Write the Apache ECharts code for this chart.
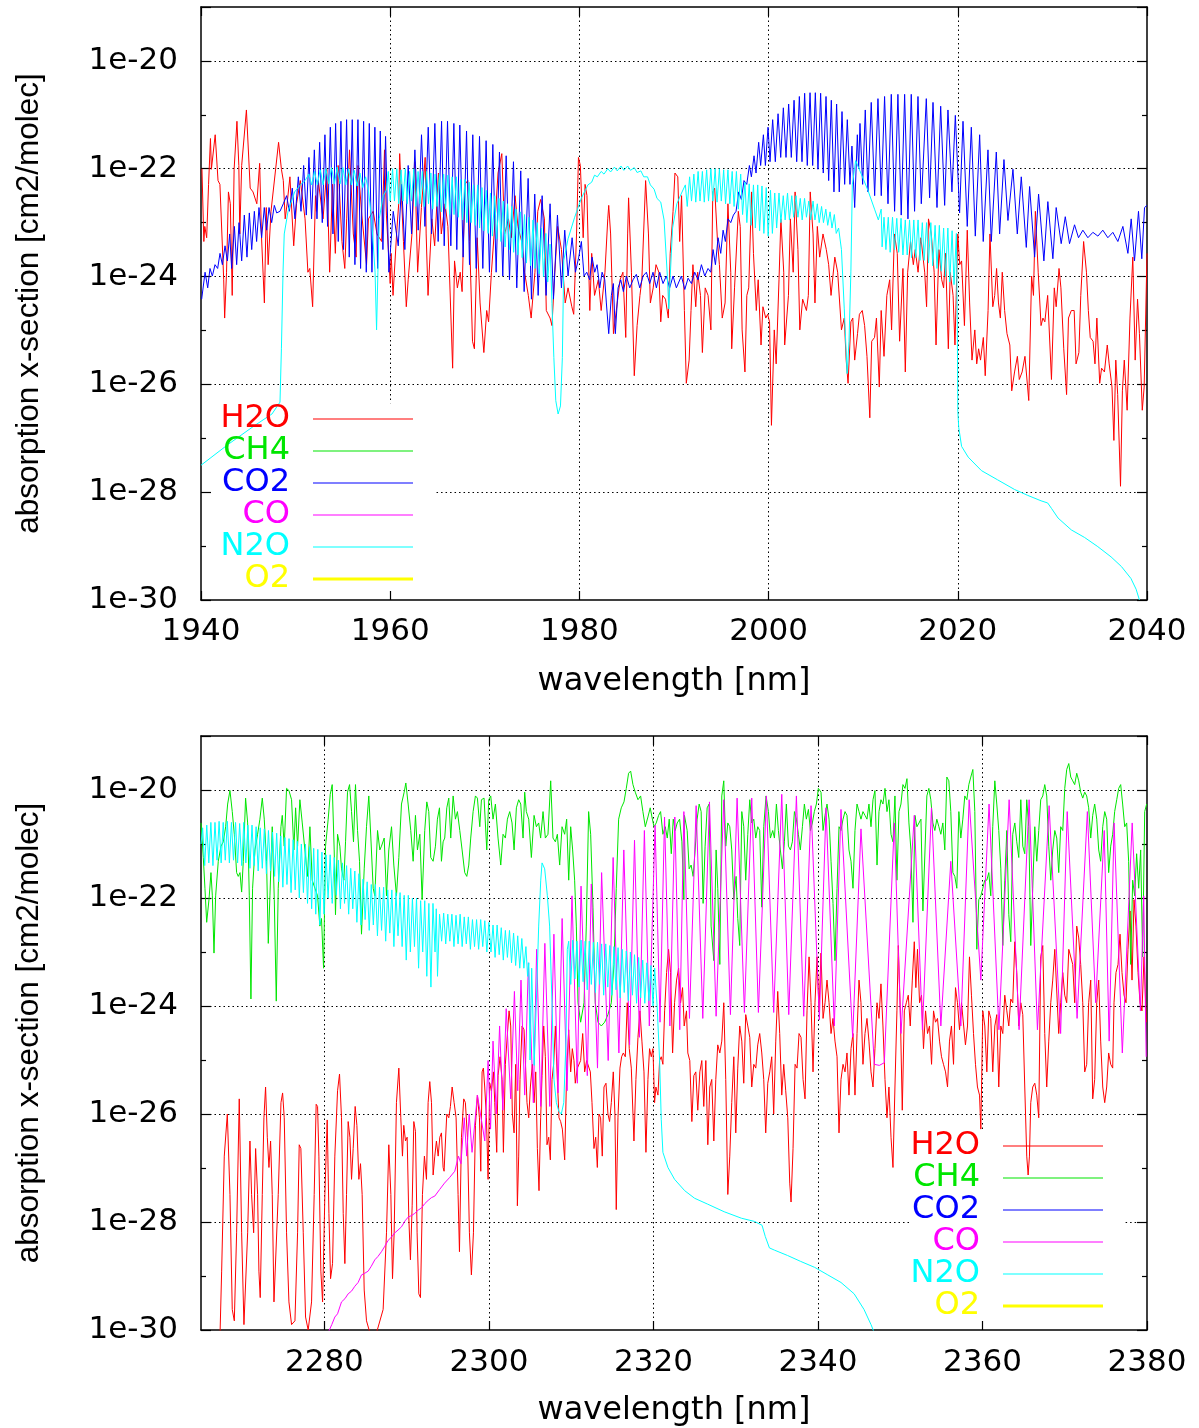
<!DOCTYPE html>
<html><head><meta charset="utf-8">
<script src="https://cdn.jsdelivr.net/npm/echarts@6/dist/echarts.min.js"></script>
<style>html,body{margin:0;padding:0;background:#fff}#c{width:1199px;height:1428px}</style>
</head><body><div id="c"></div>
<script>
// Each point: [wavelength in nm, log10(absorption cross-section / (cm2/molec))]
const topXTicks = [1940, 1960, 1980, 2000, 2020, 2040];
const bottomXTicks = [2280, 2300, 2320, 2340, 2360, 2380];
const yMajorTicks = [-30, -28, -26, -24, -22, -20];
const speciesNames = ['H2O', 'CH4', 'CO2', 'CO', 'N2O', 'O2'];
const speciesColors = ['#ff0000', '#00e600', '#0000ff', '#ff00ff', '#00ffff', '#ffff00'];
const speciesLineWidths = [1, 1, 1, 1, 1, 3];

// ---------- upper panel (1940-2040 nm) ----------
const h2oTop = [[1940.1,-22.0],[1940.3,-23.35],[1940.4,-23.07],[1940.6,-23.28],[1940.8,-22.29],[1941.0,-21.44],[1941.1,-22.01],[1941.5,-21.37],[1941.8,-22.22],[1942.0,-22.29],[1942.4,-24.06],[1942.5,-24.77],[1942.7,-23.92],[1942.9,-22.43],[1943.1,-22.65],[1943.3,-24.35],[1943.5,-22.01],[1943.8,-21.12],[1944.0,-21.94],[1944.1,-23.21],[1944.3,-21.94],[1944.5,-21.94],[1944.8,-20.91],[1945.2,-22.36],[1945.5,-22.43],[1945.9,-22.65],[1946.2,-21.90],[1946.4,-23.28],[1946.7,-24.49],[1946.9,-22.72],[1947.1,-23.78],[1947.4,-22.79],[1948.2,-21.51],[1948.5,-22.01],[1948.7,-22.22],[1948.9,-22.93],[1949.1,-22.65],[1949.4,-22.15],[1949.8,-23.43],[1950.1,-22.65],[1950.5,-22.22],[1951.0,-22.93],[1951.3,-23.92],[1951.5,-23.85],[1951.8,-24.56],[1952.1,-22.50],[1952.2,-22.79],[1952.4,-22.22],[1952.9,-22.93],[1953.3,-22.01],[1953.6,-23.92],[1953.9,-22.29],[1954.2,-23.57],[1954.5,-21.94],[1954.9,-23.35],[1955.2,-23.85],[1955.4,-22.93],[1955.7,-21.65],[1956.1,-23.21],[1956.4,-23.64],[1956.6,-21.94],[1957.0,-22.86],[1957.5,-23.78],[1957.7,-22.93],[1958.2,-22.79],[1958.6,-23.21],[1959.1,-23.35],[1959.4,-21.65],[1959.6,-22.86],[1960.0,-24.13],[1960.1,-23.57],[1960.3,-24.35],[1960.7,-23.14],[1960.9,-22.65],[1961.0,-21.72],[1961.4,-23.35],[1961.7,-24.56],[1961.9,-24.06],[1962.3,-23.21],[1962.6,-21.87],[1962.9,-23.92],[1963.3,-22.72],[1963.7,-21.79],[1963.8,-23.21],[1964.0,-24.35],[1964.4,-22.93],[1964.7,-23.43],[1965.1,-22.08],[1965.4,-23.21],[1965.8,-22.65],
[1966.1,-23.07],[1966.6,-25.70],[1966.8,-23.71],[1967.1,-24.21],[1967.4,-23.92],[1967.6,-24.28],[1967.9,-22.29],[1968.2,-22.22],[1968.4,-23.35],[1968.7,-25.20],[1968.9,-25.34],[1969.2,-23.28],[1969.5,-24.49],[1969.9,-25.41],[1970.2,-24.63],[1970.4,-24.84],[1970.7,-23.92],[1971.1,-22.93],[1971.4,-22.08],[1971.8,-21.72],[1972.1,-23.21],[1972.5,-22.93],[1972.8,-23.28],[1973.2,-22.50],[1973.5,-23.07],[1973.9,-23.35],[1974.2,-23.92],[1974.6,-24.35],[1974.9,-24.77],[1975.3,-23.92],[1975.6,-22.79],[1975.9,-22.57],[1976.3,-22.93],[1976.5,-24.63],[1976.9,-24.77],[1977.1,-24.91],[1977.4,-23.92],[1977.7,-23.07],[1978.1,-23.50],[1978.5,-24.49],[1978.8,-24.21],[1979.2,-24.56],[1979.4,-24.70],[1979.7,-23.21],[1979.9,-21.79],[1980.1,-21.94],[1980.4,-23.28],[1980.6,-22.29],[1980.8,-22.50],[1981.1,-24.63],[1981.3,-23.57],[1981.6,-24.35],[1982.0,-24.06],[1982.3,-24.63],[1982.7,-23.92],[1983.0,-22.93],[1983.1,-22.68],[1983.3,-23.21],[1983.6,-25.06],[1983.9,-24.63],[1984.3,-24.06],[1984.6,-23.92],[1984.9,-25.13],[1985.1,-23.21],[1985.2,-22.54],[1985.5,-23.92],[1985.8,-25.84],[1986.1,-24.91],[1986.4,-24.35],[1986.6,-24.06],[1987.0,-22.22],[1987.3,-23.21],[1987.5,-24.49],[1987.8,-24.21],[1988.1,-23.78],[1988.4,-23.92],[1988.6,-24.84],[1988.8,-24.35],[1989.1,-24.42],[1989.4,-24.77],[1989.6,-23.57],[1989.9,-22.79],[1990.1,-22.08],
[1990.4,-22.15],[1990.6,-23.35],[1990.8,-22.50],[1991.1,-24.63],[1991.3,-25.98],[1991.6,-25.55],[1991.8,-24.63],[1992.0,-23.78],[1992.3,-24.56],[1992.5,-23.92],[1992.8,-24.35],[1993.0,-25.41],[1993.3,-24.21],[1993.6,-24.35],[1993.9,-24.99],[1994.1,-22.43],[1994.3,-22.36],[1994.6,-23.35],[1994.8,-23.78],[1995.1,-24.77],[1995.4,-24.49],[1995.7,-22.65],[1996.0,-23.92],[1996.1,-25.34],[1996.4,-24.21],[1996.8,-22.79],[1997.0,-23.07],[1997.2,-24.99],[1997.5,-25.77],[1997.7,-24.35],[1997.9,-24.21],[1998.2,-22.43],[1998.4,-23.57],[1998.7,-24.63],[1998.9,-24.06],[1999.2,-25.27],[1999.4,-24.56],[1999.7,-24.77],[1999.9,-24.70],[2000.1,-24.84],[2000.3,-26.76],[2000.6,-24.99],[2000.8,-25.62],[2001.1,-24.06],[2001.3,-22.93],[2001.6,-23.92],[2001.7,-25.27],[2002.1,-24.35],[2002.3,-22.93],[2002.6,-23.92],[2002.8,-22.43],[2003.1,-23.50],[2003.3,-24.99],[2003.6,-24.42],[2004.0,-24.63],[2004.2,-24.35],[2004.4,-22.43],[2004.7,-23.21],[2004.9,-24.49],[2005.15,-23.07],[2005.4,-23.64],[2005.75,-23.21],[2006.1,-23.50],[2006.35,-23.78],[2006.6,-24.35],[2007.0,-23.64],[2007.3,-23.92],[2007.7,-24.99],[2008.0,-24.77],[2008.2,-25.55],[2008.4,-25.98],[2008.7,-24.84],[2008.9,-24.77],[2009.1,-25.55],[2009.4,-25.06],[2009.6,-24.70],[2009.9,-24.63],[2010.15,-24.91],[2010.4,-25.48],[2010.7,-26.62],[2010.9,-25.20],[2011.2,-25.13],[2011.4,-24.77],[2011.7,-26.05],[2011.9,-24.63],[2012.2,-25.48],[2012.5,-24.35],[2012.8,-24.06],[2013.0,-24.99],[2013.3,-23.21],[2013.6,-23.57],[2013.85,-25.20],[2014.2,-23.85],[2014.45,-25.77],[2014.7,-23.92],[2015.0,-23.35],[2015.3,-23.78],[2015.5,-23.50],[2015.8,-23.92],[2016.1,-23.28],
[2016.5,-23.92],[2016.7,-24.56],[2016.9,-22.93],[2017.2,-23.21],[2017.5,-23.92],[2017.7,-25.27],[2018.0,-23.50],[2018.3,-24.06],[2018.5,-24.21],[2018.7,-23.57],[2019.0,-25.34],[2019.2,-23.92],[2019.5,-24.35],[2019.7,-25.27],[2020.0,-23.21],[2020.2,-23.78],[2020.4,-23.71],[2020.7,-24.91],[2021.0,-23.14],[2021.25,-24.49],[2021.5,-25.55],[2021.8,-24.99],[2022.0,-25.62],[2022.2,-25.34],[2022.4,-25.55],[2022.7,-25.13],[2022.9,-25.84],[2023.2,-24.63],[2023.4,-23.21],[2023.7,-24.56],[2023.9,-24.35],[2024.1,-23.85],[2024.3,-24.49],[2024.5,-24.77],[2024.7,-23.92],[2024.95,-24.63],[2025.2,-25.06],[2025.5,-25.27],[2025.7,-26.12],[2026.0,-25.77],[2026.3,-25.48],[2026.5,-25.91],[2026.8,-25.77],[2027.1,-25.48],[2027.5,-26.30],[2027.8,-23.99],[2028.0,-24.35],[2028.2,-22.79],[2028.5,-23.92],[2028.8,-24.91],[2029.0,-24.77],[2029.2,-24.84],[2029.5,-24.35],[2029.9,-25.91],[2030.2,-24.21],[2030.4,-24.56],[2030.7,-23.85],[2030.9,-24.21],[2031.2,-25.34],[2031.5,-26.19],[2031.7,-24.77],[2032.0,-24.63],[2032.3,-24.63],[2032.5,-25.62],[2032.8,-25.41],[2033.0,-24.35],[2033.3,-23.35],[2033.6,-23.92],[2033.8,-24.63],[2034.0,-25.13],[2034.3,-25.20],[2034.5,-25.62],[2034.7,-24.77],[2035.0,-25.98],[2035.2,-25.70],[2035.5,-25.77],[2035.8,-25.27],[2036.0,-25.62],[2036.3,-26.05],[2036.5,-27.04],[2036.7,-25.55],[2036.9,-26.19],[2037.2,-27.89],[2037.4,-26.12],[2037.6,-25.55],[2037.9,-26.48],[2038.2,-24.77],[2038.5,-23.64],[2038.75,-25.55],[2039.0,-24.42],[2039.2,-25.06],[2039.5,-26.48],[2039.7,-26.05],[2040.0,-23.57]];

const co2Top = [[1940.07,-24.42],[1940.43,-23.92],[1940.71,-24.21],[1940.95,-23.85],[1941.2,-23.99],[1941.48,-23.78],[1941.76,-23.85],[1942.01,-23.57],[1942.26,-23.78],[1942.54,-23.43],[1942.79,-23.71],[1943.03,-23.21],[1943.24,-23.85],[1943.53,-23.07],[1943.77,-23.78],[1944.02,-23.0],[1944.3,-23.71],[1944.58,-22.86],[1944.86,-23.64],[1945.11,-22.82],[1945.36,-23.5],[1945.64,-22.79],[1945.88,-23.35],[1946.13,-22.72],[1946.41,-23.28],[1946.69,-22.72],[1946.94,-23.14],[1947.19,-22.72],[1947.47,-23.0],[1947.75,-22.68],[1948.0,-22.82],[1948.35,-22.79],[1948.7,-22.65],[1949.05,-22.5],[1949.34,-22.79],[1949.65,-22.36],[1949.93,-22.93],[1950.29,-22.15],[1950.57,-22.79],[1950.85,-21.94],[1951.13,-22.86],[1951.41,-21.79],[1951.69,-22.93],[1951.98,-21.65],[1952.26,-22.93],[1952.54,-21.51],[1952.82,-23.0],[1953.1,-21.37],[1953.38,-23.07],[1953.67,-21.23],[1953.95,-23.21],[1954.23,-21.16],[1954.51,-23.35],[1954.79,-21.12],[1955.07,-23.5],[1955.39,-21.09],[1955.67,-23.64],[1955.99,-21.09],[1956.27,-23.78],[1956.59,-21.09],[1956.87,-23.85],[1957.19,-21.12],[1957.47,-23.92],[1957.79,-21.16],[1958.07,-23.92],[1958.38,-21.23],[1958.67,-23.85],[1958.95,-21.30],[1959.23,-23.5],[1959.51,-21.40],[1959.86,-23.92],[1960.32,-22.79],[1960.85,-23.43],[1961.2,-22.29],[1961.55,-23.5],[1961.9,-21.94],[1962.26,-23.21],[1962.61,-21.65],[1962.96,-23.14],[1963.31,-21.37],[1963.67,-23.07],[1964.02,-21.23],[1964.37,-23.21],[1964.72,-21.16],[1965.07,-23.35],[1965.43,-21.12],[1965.71,-23.43],
[1966.06,-21.12],[1966.41,-23.43],[1966.73,-21.16],[1967.04,-23.5],[1967.36,-21.19],[1967.71,-23.64],[1968.07,-21.30],[1968.38,-23.78],[1968.73,-21.37],[1969.09,-23.85],[1969.44,-21.40],[1969.79,-23.85],[1970.14,-21.48],[1970.49,-23.92],[1970.85,-21.55],[1971.2,-23.92],[1971.55,-21.69],[1971.9,-23.99],[1972.26,-21.76],[1972.61,-24.06],[1973.03,-21.87],[1973.38,-24.21],[1973.8,-22.04],[1974.16,-24.28],[1974.58,-22.18],[1974.93,-24.42],[1975.28,-22.47],[1975.64,-24.35],[1976.06,-22.5],[1976.48,-24.35],[1976.9,-22.65],[1977.26,-24.42],[1977.68,-22.86],[1978.1,-24.21],[1978.45,-23.14],[1978.8,-23.99],[1979.23,-23.28],[1979.58,-23.92],[1979.93,-23.64],[1980.21,-23.35],[1980.49,-23.99],[1980.78,-23.92],[1981.09,-24.06],[1981.34,-23.64],[1981.62,-23.92],[1981.87,-23.78],[1982.15,-24.21],[1982.4,-23.92],[1982.68,-24.06],[1982.85,-24.49],[1983.1,-25.06],[1983.38,-24.35],[1983.59,-24.13],[1983.8,-25.06],[1984.09,-24.21],[1984.37,-24.06],[1984.65,-24.28],[1984.97,-23.99],[1985.32,-24.21],[1985.67,-24.06],[1986.02,-23.96],[1986.38,-24.21],[1986.73,-23.99],[1987.08,-23.92],[1987.43,-24.13],[1987.78,-23.92],[1988.14,-24.21],[1988.49,-23.92],[1988.84,-24.13],[1989.19,-23.99],[1989.54,-24.21],[1989.9,-23.99],[1990.25,-24.21],
[1990.78,-23.99],[1991.14,-24.24],[1991.49,-24.03],[1991.84,-24.13],[1992.19,-23.92],[1992.54,-24.06],[1992.9,-23.78],[1993.25,-23.99],[1993.6,-23.85],[1993.88,-23.92],[1994.13,-23.5],[1994.38,-23.78],[1994.66,-23.28],[1994.94,-23.57],[1995.19,-23.14],[1995.43,-23.35],[1995.71,-22.93],[1996.0,-23.0],[1996.28,-22.86],[1996.56,-22.79],[1996.84,-22.43],[1997.12,-22.57],[1997.4,-22.22],[1997.69,-22.29],[1997.97,-21.94],[1998.18,-22.15],[1998.46,-21.76],[1998.67,-22.08],[1998.95,-21.51],[1999.16,-21.94],[1999.45,-21.37],[1999.66,-21.94],[1999.94,-21.23],[2000.15,-21.87],[2000.43,-21.09],[2000.71,-21.87],[2001.0,-20.98],[2001.28,-21.79],[2001.56,-20.87],[2001.84,-21.79],[2002.12,-20.80],[2002.4,-21.79],[2002.69,-20.73],[2002.97,-21.87],[2003.25,-20.66],[2003.53,-21.87],[2003.81,-20.60],[2004.09,-21.94],[2004.38,-20.59],[2004.66,-21.94],[2004.94,-20.59],[2005.22,-22.01],[2005.5,-20.60],[2005.78,-22.08],[2006.07,-20.66],[2006.35,-22.22],[2006.63,-20.73],[2006.91,-22.43],[2007.19,-20.80],[2007.47,-22.43],[2007.76,-20.94],[2008.04,-22.29],[2008.32,-21.09],[2008.6,-22.29],[2008.81,-21.58],[2009.1,-22.72],[2009.38,-21.37],[2009.52,-22.0],[2009.66,-21.16],[2009.94,-22.29],[2010.22,-20.91],[2010.5,-22.43],[2010.85,-20.77],[2011.21,-22.5],[2011.56,-20.70],[2011.91,-22.5],[2012.26,-20.66],[2012.62,-22.65],[2012.97,-20.62],[2013.32,-22.79],[2013.67,-20.62],[2014.02,-22.86],[2014.38,-20.62],[2014.73,-22.93],[2015.08,-20.62],[2015.43,-22.79],[2015.79,-20.66],[2016.14,-22.65],
[2016.67,-20.70],[2017.02,-22.54],[2017.38,-20.77],[2017.8,-22.72],[2018.19,-20.84],[2018.61,-22.68],[2018.96,-20.91],[2019.38,-22.43],[2019.74,-21.01],[2020.19,-22.82],[2020.55,-21.12],[2021.0,-23.07],[2021.43,-21.23],[2021.85,-23.25],[2022.31,-21.37],[2022.69,-23.35],[2023.19,-21.65],[2023.54,-23.35],[2024.07,-21.69],[2024.42,-23.21],[2024.88,-21.83],[2025.3,-22.96],[2025.83,-22.01],[2026.29,-23.21],[2026.71,-22.15],[2027.24,-23.46],[2027.59,-22.33],[2028.12,-23.64],[2028.54,-22.47],[2029.1,-23.71],[2029.52,-22.61],[2030.05,-23.67],[2030.4,-22.72],[2030.93,-23.39],[2031.36,-22.89],[2031.81,-23.39],[2032.34,-23.04],[2032.76,-23.28],[2033.22,-23.14],[2033.75,-23.28],[2034.28,-23.18],[2034.81,-23.25],[2035.33,-23.14],[2035.86,-23.28],[2036.39,-23.18],[2036.92,-23.35],[2037.45,-23.07],[2037.98,-23.57],[2038.33,-22.93],[2038.68,-23.71],[2039.1,-22.79],[2039.45,-23.67],[2039.74,-22.72],[2040.0,-22.68]];

const n2oTop = [[1940.0,-27.5],[1942.9,-27.11],[1945.7,-26.76],[1947.5,-26.55],[1948.35,-26.33],[1948.5,-25.34],[1948.67,-23.92],[1948.8,-23.21],[1949.2,-22.79],[1949.9,-22.43],[1950.5,-22.3],[1951.0,-22.22],[1951.4,-22.1],[1951.7,-22.3],[1952.0,-22.05],[1952.3,-22.3],[1952.6,-22.02],[1952.9,-22.3],[1953.2,-22.0],[1953.5,-22.28],[1953.8,-21.98],[1954.1,-22.28],[1954.4,-21.97],[1954.7,-22.28],[1955.0,-21.98],[1955.3,-22.3],[1955.6,-22.0],[1955.9,-22.3],[1956.2,-22.03],[1956.5,-22.32],[1956.8,-22.08],[1957.1,-22.35],[1957.4,-22.15],[1957.7,-22.4],[1958.03,-22.93],[1958.4,-23.92],[1958.56,-24.99],[1958.7,-23.92],[1958.84,-22.93],[1959.26,-22.5],[1959.6,-22.4],
[1959.8,-22.05],[1960.0,-22.6],[1960.25,-22.0],[1960.45,-22.6],[1960.7,-22.0],[1960.9,-22.65],[1961.15,-22.02],[1961.35,-22.6],[1961.6,-22.0],[1961.8,-22.65],[1962.05,-22.05],[1962.25,-22.6],[1962.5,-22.0],[1962.7,-22.7],[1962.95,-22.05],[1963.15,-22.65],[1963.4,-22.05],[1963.6,-22.7],[1963.85,-22.05],[1964.05,-22.65],[1964.3,-22.08],[1964.5,-22.75],[1964.75,-22.1],[1964.95,-22.7],[1965.2,-22.1],[1965.4,-22.8],[1965.65,-22.1],[1965.85,-22.75],[1966.1,-22.12],[1966.3,-22.85],[1966.55,-22.15],[1966.75,-22.85],[1967.0,-22.15],[1967.2,-22.9],[1967.45,-22.2],[1967.65,-22.95],[1967.9,-22.2],[1968.1,-23.0],[1968.35,-22.25],[1968.55,-23.0],[1968.8,-22.3],[1969.0,-23.05],[1969.25,-22.3],[1969.45,-23.1],[1969.7,-22.35],[1969.9,-23.15],[1970.15,-22.4],[1970.35,-23.2],[1970.6,-22.45],[1970.8,-23.25],[1971.05,-22.5],[1971.25,-23.3],[1971.5,-22.55],[1971.7,-23.35],[1971.95,-22.6],[1972.15,-23.45],[1972.4,-22.65],[1972.6,-23.5],[1972.85,-22.7],[1973.05,-23.55],[1973.3,-22.75],[1973.5,-23.6],[1973.75,-22.8],[1973.95,-23.65],[1974.2,-22.85],[1974.4,-23.75],[1974.65,-22.9],[1974.85,-23.8],[1975.1,-22.95],[1975.3,-23.85],[1975.55,-23.0],[1975.75,-23.95],[1976.0,-23.1],[1976.2,-24.0],[1976.45,-23.2],[1976.65,-24.1],[1976.9,-23.4],[1977.1,-24.5],
[1977.3,-25.5],[1977.5,-26.3],[1977.75,-26.55],[1978.0,-26.4],[1978.2,-25.5],[1978.35,-23.7],[1978.8,-23.3],[1979.5,-22.9],[1980.2,-22.55],[1980.9,-22.3],[1981.3,-22.25],[1981.6,-22.12],[1981.9,-22.15],[1982.3,-22.05],[1982.6,-22.1],[1983.0,-22.0],[1983.3,-22.06],[1983.7,-21.97],[1984.0,-22.04],[1984.4,-21.95],[1984.7,-22.03],[1985.1,-21.95],[1985.4,-22.03],[1985.8,-21.98],[1986.1,-22.07],[1986.5,-22.04],[1986.8,-22.15],[1987.2,-22.15],[1987.5,-22.3],[1987.9,-22.38],[1988.2,-22.55],[1988.6,-22.62],[1988.95,-22.95],[1989.3,-24.0],[1989.45,-24.6],[1989.6,-24.0],[1989.85,-23.1],[1990.3,-22.65],[1990.8,-22.45],
[1991.2,-22.3],[1991.4,-22.7],[1991.65,-22.15],[1991.85,-22.6],[1992.1,-22.1],[1992.3,-22.62],[1992.55,-22.05],[1992.75,-22.6],[1993.0,-22.05],[1993.2,-22.62],[1993.45,-22.02],[1993.65,-22.6],[1993.9,-22.0],[1994.1,-22.6],[1994.35,-22.0],[1994.55,-22.62],[1994.8,-22.0],[1995.0,-22.6],[1995.25,-22.02],[1995.45,-22.65],[1995.7,-22.02],[1995.9,-22.65],[1996.15,-22.05],[1996.35,-22.7],[1996.6,-22.05],[1996.8,-22.75],[1997.05,-22.1],[1997.25,-22.85],[1997.5,-22.25],[1997.7,-23.0],[1997.95,-22.28],[1998.15,-23.05],[1998.4,-22.3],[1998.6,-23.1],[1998.85,-22.3],[1999.05,-23.15],[1999.3,-22.32],[1999.5,-23.2],[1999.75,-22.35],[1999.95,-23.25],[2000.2,-22.4],[2000.4,-23.2],[2000.65,-22.45],[2000.85,-23.1],[2001.1,-22.45],[2001.3,-23.0],[2001.55,-22.5],[2001.75,-22.95],[2002.0,-22.45],[2002.2,-22.95],[2002.45,-22.5],[2002.65,-22.9],[2002.9,-22.5],[2003.1,-22.9],[2003.35,-22.55],[2003.55,-22.95],[2003.8,-22.55],[2004.0,-22.9],[2004.25,-22.6],[2004.45,-22.95],[2004.7,-22.6],[2004.9,-22.95],[2005.15,-22.65],[2005.35,-23.0],[2005.6,-22.7],[2005.8,-23.0],[2006.05,-22.75],[2006.25,-23.05],[2006.5,-22.8],[2006.7,-23.1],[2006.95,-22.85],[2007.15,-23.2],
[2007.4,-23.1],[2007.7,-23.5],[2008.0,-24.6],[2008.3,-25.8],[2008.5,-25.2],[2008.7,-23.9],[2008.85,-22.3],[2009.2,-21.85],[2009.8,-22.1],[2010.5,-22.4],[2011.2,-22.75],[2011.6,-22.95],[2011.9,-22.75],[2012.0,-23.45],
[2012.2,-22.9],[2012.4,-23.5],[2012.65,-22.9],[2012.85,-23.55],[2013.1,-22.9],[2013.3,-23.5],[2013.55,-22.92],[2013.75,-23.55],[2014.0,-22.92],[2014.2,-23.6],[2014.45,-22.95],[2014.65,-23.6],[2014.9,-22.95],[2015.1,-23.65],[2015.35,-22.95],[2015.55,-23.65],[2015.8,-22.95],[2016.0,-23.7],[2016.25,-23.0],[2016.45,-23.7],[2016.7,-23.0],[2016.9,-23.75],[2017.15,-23.0],[2017.35,-23.8],[2017.6,-23.05],[2017.8,-23.85],[2018.05,-23.05],[2018.25,-23.9],[2018.5,-23.1],[2018.7,-24.0],[2018.95,-23.1],[2019.15,-24.1],[2019.4,-23.15],[2019.6,-24.15],[2019.85,-23.2],
[2019.95,-24.9],[2020.0,-26.5],[2020.1,-26.8],[2020.4,-27.15],[2021.1,-27.35],[2022.5,-27.6],[2024.2,-27.77],[2026.0,-27.95],[2027.4,-28.06],[2028.8,-28.16],[2029.5,-28.2],[2029.9,-28.3],[2030.6,-28.48],[2032.0,-28.7],[2033.4,-28.84],[2034.8,-29.01],[2036.2,-29.2],[2037.3,-29.38],[2038.3,-29.6],[2038.85,-29.8],[2039.2,-30.0]];

// ---------- lower panel (2265-2380 nm) ----------
const h2oBottom = [[2265.0,-30.1],[2267.31,-30.1],[2267.51,-28.91],[2267.83,-26.78],[2268.2,-26.0],[2268.52,-27.49],[2268.8,-29.62],[2269.05,-29.83],[2269.33,-28.20],[2269.65,-25.72],[2269.94,-28.20],[2270.22,-29.90],[2270.42,-29.90],[2270.67,-28.20],[2270.95,-26.50],[2271.15,-27.49],[2271.4,-28.20],[2271.64,-26.64],[2271.88,-27.49],[2272.04,-28.91],[2272.2,-29.40],[2272.45,-27.49],[2272.65,-26.07],[2272.85,-25.50],[2273.06,-26.43],[2273.26,-26.99],[2273.46,-26.50],[2273.66,-27.49],[2273.87,-29.48],[2274.07,-29.48],[2274.39,-27.49],[2274.72,-25.79],[2274.92,-25.61],[2275.12,-26.07],[2275.4,-28.20],[2275.69,-29.48],[2276.01,-29.90],[2276.42,-29.83],[2276.74,-28.20],[2276.94,-26.57],[2277.14,-26.64],[2277.43,-28.20],[2277.71,-29.76],[2278.03,-30.0],[2278.44,-29.48],[2278.76,-27.49],[2279.0,-25.82],[2279.17,-25.86],[2279.33,-26.78],[2279.57,-28.91],[2279.78,-29.48],[2280.06,-27.49],[2280.34,-26.11],[2280.55,-27.84],[2280.75,-29.05],[2280.99,-28.77],[2281.27,-26.78],[2281.6,-25.57],[2281.84,-25.26],[2282.08,-26.07],[2282.29,-27.84],[2282.49,-28.77],[2282.69,-27.49],[2282.89,-26.14],[2283.1,-26.43],[2283.3,-27.21],[2283.5,-26.64],[2283.74,-25.86],[2283.95,-26.21],[2284.19,-27.21],[2284.39,-26.92],[2284.59,-27.49],[2284.84,-29.26],[2285.12,-29.83],[2285.53,-30.05],[2286.34,-30.05],[2287.14,-29.62],[2287.55,-28.20],[2287.83,-26.57],[2288.08,-27.49],[2288.28,-29.05],[2288.48,-28.20],[2288.76,-25.79],[2289.05,-25.15],[2289.29,-26.07],[2289.49,-26.78],[2289.65,-26.21],[2289.86,-26.50],[2290.06,-26.43],[2290.26,-27.91],[2290.46,-28.70],[2290.67,-27.70],[2290.87,-26.14],[2291.07,-26.32],[2291.27,-28.20],[2291.48,-29.33],[2291.68,-29.40],[2291.92,-27.49],[2292.16,-26.78],[2292.41,-27.21],[2292.61,-25.79],[2292.81,-25.40],[2293.02,-25.79],[2293.22,-27.13],[2293.42,-26.78],[2293.62,-26.50],[2293.83,-26.78],[2294.03,-26.43],[2294.23,-26.35],[2294.43,-26.99],
[2294.55,-27.06],[2294.72,-26.50],[2294.88,-26.0],[2295.12,-26.07],[2295.32,-25.86],[2295.53,-25.50],[2295.77,-25.79],[2296.01,-26.07],[2296.25,-27.49],[2296.42,-28.55],[2296.66,-26.43],[2296.94,-25.72],[2297.14,-25.79],[2297.39,-26.43],[2297.63,-28.20],[2297.87,-28.98],[2298.12,-28.20],[2298.36,-26.21],[2298.6,-25.65],[2298.85,-26.07],[2299.01,-27.06],[2299.17,-25.22],[2299.33,-25.15],[2299.49,-25.50],[2299.7,-26.07],[2299.9,-27.21],[2300.1,-25.43],[2300.3,-25.57],[2300.55,-25.22],[2300.71,-25.79],[2300.95,-26.71],[2301.11,-25.29],[2301.36,-24.94],[2301.6,-25.36],[2301.76,-26.71],[2302.0,-25.08],[2302.25,-24.51],[2302.45,-24.09],[2302.65,-24.37],[2302.85,-26.0],[2303.06,-26.35],[2303.26,-25.08],[2303.46,-27.70],[2303.62,-26.78],[2303.78,-25.36],[2304.03,-24.37],[2304.27,-24.44],[2304.43,-25.01],[2304.63,-25.79],[2304.84,-26.07],[2305.04,-25.50],[2305.28,-25.08],[2305.49,-25.79],[2305.69,-25.22],[2305.89,-26.64],[2306.09,-27.42],[2306.29,-26.07],[2306.46,-25.29],[2306.66,-24.37],[2306.86,-24.94],[2307.06,-26.57],[2307.27,-26.43],[2307.47,-26.85],[2307.67,-25.36],[2307.87,-25.08],[2308.08,-24.37],[2308.32,-25.36],[2308.52,-26.07],[2308.72,-26.14],[2308.93,-26.28],[2309.21,-26.85],[2309.45,-25.22],[2309.7,-24.44],[2309.94,-25.22],[2310.14,-24.79],[2310.34,-25.01],[2310.5,-25.43],[2310.75,-25.15],[2310.95,-25.15],[2311.15,-25.01],[2311.4,-24.51],[2311.64,-25.22],[2311.88,-25.01],[2312.12,-25.01],[2312.33,-25.22],[2312.53,-25.79],[2312.77,-26.64],[2312.98,-26.43],[2313.18,-26.99],[2313.38,-26.0],[2313.58,-26.07],[2313.78,-26.78],[2313.99,-25.50],[2314.23,-25.43],[2314.47,-26.0],[2314.67,-26.14],[2314.88,-25.79],[2315.12,-25.22],[2315.32,-26.0],[2315.48,-27.77],[2315.69,-26.07],[2315.93,-25.15],[2316.13,-24.94],[2316.34,-24.87],[2316.58,-24.94],[2316.82,-23.94],[2317.06,-24.79],[2317.31,-25.15],[2317.63,-26.50],[2317.87,-25.36],[2318.12,-24.58],[2318.36,-24.09],[2318.6,-24.65],[2318.85,-25.22],[2319.09,-26.71],[2319.33,-25.36],[2319.53,-24.79],[2319.74,-24.94],[2319.94,-24.79],[2320.14,-25.79],[2320.3,-25.50],[2320.55,-25.65],[2320.75,-25.01],[2320.95,-24.94],[2321.15,-25.08],[2321.36,-24.09],[2321.6,-23.38],[2321.84,-22.95],[2322.08,-23.38],[2322.33,-24.87],[2322.57,-23.94],[2322.81,-23.52],[2323.06,-23.30],[2323.3,-23.94],[2323.54,-23.66],[2323.74,-24.37],
[2324.02,-24.09],[2324.18,-24.87],[2324.42,-25.01],[2324.67,-26.14],[2324.91,-25.29],[2325.15,-25.22],[2325.39,-25.93],[2325.64,-25.22],[2325.88,-25.01],[2326.12,-25.86],[2326.37,-25.01],[2326.61,-26.57],[2326.85,-25.50],[2327.09,-25.36],[2327.34,-26.50],[2327.58,-25.36],[2327.82,-24.72],[2328.07,-24.87],[2328.31,-24.65],[2328.55,-23.94],[2328.79,-25.36],[2329.04,-27.49],[2329.28,-26.78],[2329.52,-25.79],[2329.77,-24.94],[2330.01,-26.35],[2330.25,-25.15],[2330.49,-24.37],[2330.74,-24.65],[2330.98,-25.43],[2331.22,-24.16],[2331.47,-24.37],[2331.71,-24.58],[2331.95,-25.50],[2332.2,-25.08],[2332.44,-25.15],[2332.68,-24.72],[2332.92,-24.51],[2333.17,-24.87],[2333.41,-25.36],[2333.65,-26.35],[2333.9,-25.43],[2334.14,-25.22],[2334.38,-24.94],[2334.62,-26.0],[2334.87,-24.65],[2335.11,-23.73],[2335.35,-24.51],[2335.6,-25.65],[2335.84,-25.08],[2336.08,-25.57],[2336.33,-26.07],[2336.57,-27.28],[2336.73,-27.63],[2336.97,-26.64],[2337.22,-25.08],[2337.46,-25.15],[2337.7,-24.51],[2337.94,-24.58],[2338.19,-25.36],[2338.43,-25.72],[2338.67,-24.09],[2338.92,-23.09],[2339.16,-23.94],[2339.4,-25.22],[2339.64,-23.94],[2339.89,-23.09],[2340.13,-24.09],[2340.37,-23.02],[2340.62,-24.23],[2340.86,-23.94],[2341.1,-23.52],[2341.35,-23.94],[2341.59,-24.51],[2341.83,-24.23],[2342.07,-24.65],[2342.32,-24.94],[2342.56,-26.35],[2342.8,-25.36],[2343.05,-25.08],[2343.29,-25.22],[2343.53,-24.87],[2343.77,-25.65],[2344.02,-24.79],[2344.26,-24.51],[2344.5,-25.65],[2344.75,-24.51],[2344.99,-23.52],[2345.23,-23.94],[2345.47,-25.08],[2345.72,-24.51],[2345.96,-24.23],[2346.2,-24.65],[2346.45,-25.22],[2346.69,-25.50],[2346.93,-24.79],[2347.18,-23.94],[2347.42,-24.23],[2347.66,-23.59],[2347.9,-24.37],[2348.15,-25.36],[2348.39,-26.07],[2348.63,-25.50],[2348.88,-26.43],[2349.12,-26.99],[2349.36,-25.50],[2349.6,-24.09],[2349.77,-22.88],[2350.01,-24.09],[2350.25,-25.93],[2350.5,-24.09],[2350.74,-23.94],[2350.98,-23.80],[2351.22,-24.37],[2351.47,-23.52],[2351.71,-22.81],
[2351.9,-23.66],[2352.1,-22.95],[2352.35,-23.94],[2352.59,-23.80],[2352.83,-24.79],[2353.08,-24.09],[2353.32,-24.51],[2353.56,-24.37],[2353.81,-25.08],[2354.05,-24.09],[2354.29,-24.30],[2354.53,-24.23],[2354.78,-24.65],[2355.02,-24.94],[2355.26,-25.08],[2355.51,-25.22],[2355.75,-25.50],[2355.99,-24.65],[2356.23,-24.37],[2356.48,-25.08],[2356.72,-23.66],[2356.96,-23.94],[2357.21,-24.44],[2357.45,-23.94],[2357.69,-23.94],[2357.93,-24.72],[2358.18,-24.37],[2358.42,-23.09],[2358.66,-23.80],[2358.91,-24.51],[2359.15,-25.08],[2359.39,-25.50],[2359.64,-25.65],[2359.8,-26.28],[2360.04,-24.09],[2360.28,-24.37],[2360.53,-25.22],[2360.77,-24.09],[2361.01,-24.23],[2361.25,-25.22],[2361.5,-24.37],[2361.74,-24.16],[2361.98,-25.50],[2362.23,-24.37],[2362.47,-24.51],[2362.71,-23.80],[2362.96,-24.09],[2363.2,-24.37],[2363.44,-23.87],[2363.68,-23.94],[2363.93,-22.81],[2364.17,-23.38],[2364.41,-24.37],[2364.66,-23.94],[2364.9,-24.16],[2365.14,-25.50],[2365.38,-26.78],[2365.55,-27.13],[2365.71,-26.78],[2365.87,-25.79],[2366.11,-25.50],[2366.36,-25.43],[2366.6,-25.65],[2366.84,-26.07],[2367.08,-23.09],[2367.33,-22.88],[2367.57,-24.51],[2367.81,-25.50],[2368.06,-24.65],[2368.3,-23.94],[2368.54,-23.52],[2368.79,-22.95],[2369.03,-22.95],[2369.27,-24.51],[2369.51,-23.94],[2369.76,-23.38],[2370.0,-23.80],[2370.24,-23.94],[2370.49,-22.95],[2370.73,-22.95],[2370.97,-23.23],[2371.21,-23.94],[2371.46,-22.52],[2371.7,-22.74],[2371.94,-23.23],[2372.19,-23.94],[2372.43,-25.22],[2372.67,-25.08],[2372.91,-23.94],[2373.16,-23.52],[2373.4,-25.72],[2373.64,-25.36],[2373.89,-23.94],[2374.13,-23.52],[2374.37,-24.65],[2374.62,-25.50],[2374.86,-25.79],[2375.1,-25.50],[2375.34,-24.87],[2375.59,-25.08],[2375.83,-25.15],[2375.99,-23.94],[2376.23,-23.38],[2376.48,-23.23],[2376.72,-22.67],[2376.96,-23.38],[2377.21,-23.80],[2377.45,-23.94],[2377.69,-22.95],[2377.94,-22.24],[2378.18,-23.52],[2378.42,-22.03],[2378.66,-22.52],[2378.91,-23.38],[2379.15,-23.94],[2379.39,-24.09],[2379.64,-23.09],[2379.92,-24.30]];

const ch4Bottom = [[2265.0,-20.61],[2265.28,-21.25],[2265.48,-21.82],[2265.69,-22.45],[2265.97,-22.03],[2266.21,-21.53],[2266.38,-21.96],[2266.58,-23.02],[2266.78,-21.96],[2267.1,-21.32],[2267.43,-21.04],[2267.71,-20.96],[2268.0,-20.68],[2268.24,-20.26],[2268.52,-20.01],[2268.8,-20.40],[2269.05,-20.82],[2269.33,-21.53],[2269.53,-21.60],[2269.74,-21.53],[2269.94,-21.89],[2270.14,-21.32],[2270.42,-20.15],[2270.67,-20.61],[2270.87,-21.96],[2271.07,-23.87],[2271.27,-21.82],[2271.56,-21.11],[2271.88,-20.82],[2272.16,-20.54],[2272.45,-20.15],[2272.69,-20.54],[2272.97,-21.32],[2273.18,-22.84],[2273.38,-21.96],[2273.66,-20.68],[2273.91,-22.03],[2274.15,-23.91],[2274.39,-21.82],[2274.72,-20.68],[2274.88,-20.47],[2275.12,-21.04],[2275.4,-19.97],[2275.69,-20.01],[2276.01,-20.18],[2276.29,-21.11],[2276.5,-20.33],[2276.74,-21.04],[2277.02,-20.18],[2277.31,-20.61],[2277.63,-21.11],[2277.95,-21.60],[2278.24,-20.68],[2278.52,-21.67],[2278.85,-21.82],[2279.17,-21.96],[2279.45,-22.52],[2279.65,-22.38],[2279.9,-23.30],[2280.14,-21.04],[2280.46,-20.54],[2280.71,-20.08],[2280.95,-19.90],[2281.19,-21.11],[2281.35,-22.31],[2281.6,-20.82],[2281.88,-21.04],[2282.08,-21.46],[2282.37,-21.67],[2282.57,-20.96],[2282.81,-20.04],[2283.06,-19.90],[2283.3,-20.40],[2283.54,-20.96],[2283.78,-19.90],[2284.03,-20.75],[2284.27,-21.32],[2284.51,-22.67],[2284.84,-21.46],[2285.12,-20.68],[2285.4,-20.11],[2285.65,-20.89],[2285.93,-21.82],[2286.13,-21.96],[2286.46,-20.75],[2286.74,-21.11],[2286.94,-21.04],[2287.27,-20.89],[2287.55,-21.96],[2287.83,-21.11],[2288.16,-20.68],[2288.44,-21.39],[2288.76,-21.96],[2289.05,-21.25],[2289.37,-20.26],[2289.7,-20.04],[2289.9,-19.87],[2290.18,-20.26],[2290.5,-20.75],[2290.79,-21.32],[2291.07,-20.47],[2291.31,-21.11],[2291.6,-20.82],[2291.88,-22.03],[2292.2,-20.75],[2292.45,-20.22],[2292.69,-20.40],[2292.93,-21.25],[2293.22,-21.32],[2293.5,-21.04],
[2293.74,-20.54],[2293.99,-20.33],[2294.23,-21.32],[2294.43,-20.96],[2294.63,-20.89],[2294.88,-20.33],[2295.12,-20.15],[2295.36,-20.89],[2295.65,-20.11],[2295.93,-20.54],[2296.17,-20.40],[2296.46,-20.75],[2296.74,-21.11],[2297.06,-21.53],[2297.31,-21.60],[2297.55,-21.39],[2297.79,-20.89],[2298.08,-20.40],[2298.36,-20.11],[2298.6,-20.15],[2298.89,-20.68],[2299.09,-20.18],[2299.41,-20.15],[2299.74,-21.11],[2299.98,-20.18],[2300.22,-20.11],[2300.5,-20.54],[2300.79,-20.26],[2301.11,-20.89],[2301.44,-21.39],[2301.72,-20.82],[2302.0,-20.89],[2302.25,-20.54],[2302.53,-20.40],[2302.81,-20.61],[2303.06,-21.11],[2303.34,-20.33],[2303.62,-20.18],[2303.87,-20.26],[2304.15,-20.89],[2304.35,-20.04],[2304.55,-20.40],[2304.84,-20.54],[2305.16,-21.25],[2305.49,-20.47],[2305.77,-20.68],[2306.05,-20.61],[2306.29,-20.89],[2306.58,-20.40],[2306.86,-20.89],[2307.18,-20.82],[2307.51,-19.83],[2307.79,-20.89],[2308.08,-20.96],[2308.32,-20.82],[2308.6,-21.39],[2308.89,-20.68],[2309.21,-20.82],[2309.45,-20.54],[2309.7,-21.67],[2309.94,-20.68],[2310.18,-21.11],[2310.42,-21.67],[2310.63,-22.52],[2310.83,-23.94],[2311.15,-24.30],[2311.56,-23.94],[2311.84,-22.52],[2312.12,-20.40],[2312.37,-20.82],[2312.65,-22.17],[2312.93,-23.94],[2313.26,-24.30],[2313.66,-24.37],[2314.07,-24.30],[2314.47,-24.16],[2314.88,-23.94],[2315.2,-23.23],[2315.48,-21.82],[2315.77,-20.54],[2316.09,-20.33],[2316.42,-20.22],[2316.7,-19.97],[2316.98,-19.69],[2317.23,-19.65],[2317.51,-19.90],[2317.79,-20.04],[2318.12,-20.18],[2318.44,-20.11],[2318.72,-20.40],[2319.01,-20.68],[2319.33,-20.50],[2319.61,-20.33],[2319.82,-20.50],[2320.06,-20.68],[2320.34,-20.61],[2320.63,-20.47],[2320.87,-20.40],[2321.15,-20.82],[2321.44,-20.68],[2321.68,-20.89],[2321.92,-20.54],[2322.17,-21.18],[2322.41,-20.54],[2322.65,-20.75],[2322.89,-20.61],[2323.18,-20.54],[2323.46,-20.96],[2323.7,-22.03],
[2323.77,-20.47],[2324.1,-20.75],[2324.34,-21.46],[2324.58,-21.39],[2324.83,-21.60],[2325.07,-21.11],[2325.31,-20.54],[2325.56,-20.26],[2325.8,-20.40],[2326.04,-22.10],[2326.28,-21.04],[2326.53,-20.33],[2326.77,-20.26],[2327.01,-22.52],[2327.34,-23.16],[2327.62,-21.11],[2327.82,-21.82],[2328.07,-23.23],[2328.31,-20.11],[2328.55,-19.83],[2328.79,-21.04],[2329.04,-20.61],[2329.28,-20.68],[2329.52,-21.11],[2329.77,-22.03],[2330.05,-21.60],[2330.25,-22.38],[2330.49,-22.88],[2330.74,-20.40],[2330.98,-20.68],[2331.22,-21.67],[2331.47,-20.82],[2331.71,-20.18],[2331.95,-20.61],[2332.2,-20.54],[2332.44,-20.89],[2332.68,-20.68],[2332.92,-20.75],[2333.17,-22.17],[2333.41,-20.68],[2333.69,-20.11],[2333.98,-20.40],[2334.22,-20.89],[2334.5,-20.75],[2334.71,-20.89],[2334.95,-20.26],[2335.19,-20.75],[2335.43,-21.11],[2335.68,-21.46],[2335.92,-20.96],[2336.16,-20.26],[2336.41,-21.04],[2336.65,-21.11],[2336.89,-20.96],[2337.14,-20.40],[2337.38,-20.54],[2337.62,-20.82],[2337.86,-21.11],[2338.11,-20.68],[2338.35,-20.26],[2338.59,-20.54],[2338.84,-20.36],[2339.08,-20.75],[2339.32,-20.61],[2339.56,-20.40],[2339.81,-20.26],[2340.05,-19.97],[2340.37,-20.04],[2340.62,-20.75],[2340.86,-20.47],[2341.1,-20.26],[2341.35,-20.54],[2341.59,-21.32],[2341.83,-22.10],[2342.07,-23.16],[2342.32,-21.82],[2342.56,-20.68],[2342.8,-20.75],[2343.05,-20.54],[2343.29,-20.40],[2343.53,-20.47],[2343.77,-21.11],[2344.02,-21.32],[2344.26,-21.82],[2344.5,-20.75],[2344.75,-20.26],[2344.99,-20.40],[2345.23,-20.54],[2345.47,-20.40],[2345.72,-20.47],[2345.96,-20.54],[2346.2,-20.26],[2346.45,-20.68],[2346.69,-20.18],[2346.93,-20.01],[2347.18,-21.39],[2347.42,-20.40],[2347.66,-20.18],[2347.9,-20.26],[2348.15,-19.97],[2348.39,-20.40],[2348.63,-20.18],[2348.88,-20.82],[2349.12,-20.96],[2349.36,-20.11],[2349.6,-21.67],[2349.85,-20.40],[2350.09,-20.26],[2350.33,-19.90],[2350.58,-19.97],[2350.82,-19.79],[2351.06,-20.61],[2351.3,-21.11],[2351.55,-22.45],[2351.79,-20.47],[2352.03,-20.68],[2352.28,-20.61],[2352.52,-20.54],[2352.76,-22.24],
[2353.24,-20.11],[2353.48,-19.97],[2353.72,-20.18],[2353.97,-20.61],[2354.21,-20.75],[2354.45,-20.54],[2354.7,-20.68],[2354.94,-20.82],[2355.18,-20.61],[2355.42,-21.11],[2355.67,-19.76],[2355.91,-19.83],[2356.15,-20.40],[2356.4,-21.53],[2356.64,-21.60],[2356.88,-21.82],[2357.13,-20.40],[2357.37,-20.89],[2357.61,-20.54],[2357.85,-20.11],[2358.1,-20.18],[2358.34,-19.90],[2358.58,-19.76],[2358.83,-19.62],[2359.07,-20.40],[2359.31,-22.95],[2359.55,-22.03],[2359.8,-21.96],[2360.04,-21.82],[2360.28,-21.67],[2360.53,-21.67],[2360.77,-21.53],[2361.01,-21.96],[2361.25,-20.68],[2361.5,-19.83],[2361.74,-20.26],[2361.98,-20.75],[2362.23,-21.46],[2362.47,-22.88],[2362.71,-21.67],[2362.96,-20.75],[2363.2,-22.31],[2363.44,-22.81],[2363.68,-20.82],[2363.93,-20.61],[2364.17,-20.96],[2364.41,-21.25],[2364.66,-20.18],[2364.9,-21.04],[2365.14,-21.18],[2365.38,-20.18],[2365.63,-20.68],[2365.87,-22.88],[2366.11,-21.82],[2366.36,-20.68],[2366.6,-21.32],[2366.84,-20.75],[2367.08,-20.18],[2367.33,-20.11],[2367.57,-19.90],[2367.81,-20.11],[2368.06,-21.04],[2368.3,-21.67],[2368.54,-21.11],[2368.79,-20.75],[2369.03,-20.89],[2369.27,-21.53],[2369.51,-20.68],[2369.76,-20.75],[2370.0,-19.97],[2370.24,-19.62],[2370.49,-19.51],[2370.73,-19.76],[2370.97,-19.83],[2371.21,-19.90],[2371.46,-19.69],[2371.7,-19.83],[2371.94,-20.04],[2372.19,-20.15],[2372.43,-20.04],[2372.67,-20.11],[2372.91,-20.33],[2373.16,-20.89],[2373.4,-20.47],[2373.64,-20.26],[2373.89,-20.54],[2374.13,-21.11],[2374.37,-21.32],[2374.62,-20.68],[2374.86,-20.40],[2375.1,-20.54],[2375.34,-21.53],[2375.59,-21.04],[2375.83,-20.82],[2376.07,-20.40],[2376.32,-20.18],[2376.56,-19.97],[2376.8,-19.90],[2377.04,-20.26],[2377.29,-20.68],[2377.53,-20.61],[2377.77,-21.32],[2378.02,-23.23],[2378.26,-21.67],[2378.5,-21.96],[2378.74,-21.18],[2378.99,-21.82],[2379.23,-21.11],[2379.47,-23.09],[2379.72,-20.40],[2379.96,-20.26]];

const coBottom = [[2280.46,-30.05],[2280.9,-29.9],[2281.27,-29.76],[2281.6,-29.7],[2282.08,-29.48],[2282.5,-29.42],[2282.89,-29.33],[2283.3,-29.28],[2283.7,-29.19],[2284.1,-29.12],[2284.51,-28.98],[2284.9,-28.95],[2285.32,-28.91],[2285.7,-28.82],[2286.13,-28.70],[2286.5,-28.64],[2286.94,-28.55],[2287.3,-28.46],[2287.75,-28.34],[2288.15,-28.28],[2288.56,-28.20],[2288.95,-28.15],[2289.37,-28.09],[2289.8,-27.98],[2290.18,-27.91],[2290.6,-27.88],[2290.99,-27.84],[2291.4,-27.78],[2291.8,-27.74],[2292.2,-27.66],[2292.61,-27.60],[2293.0,-27.55],[2293.42,-27.52],[2294.0,-27.4],[2294.6,-27.28],[2295.2,-27.18],[2295.85,-27.06],[2296.3,-26.78],[2296.6,-26.92],[2297.0,-26.07],[2297.3,-26.78],[2297.6,-26.0],[2297.95,-26.71],[2298.6,-25.65],[2299.5,-26.5],[2299.9,-25.01],[2300.2,-26.28],[2300.5,-24.65],[2300.9,-26.0],[2301.3,-24.37],[2301.7,-25.93],[2302.1,-24.05],[2302.65,-25.72],[2303.1,-23.73],[2303.5,-25.57],[2303.9,-23.52],[2304.35,-25.65],[2304.8,-23.20],[2305.4,-25.79],[2305.8,-22.95],[2306.3,-25.86],[2306.8,-22.84],[2307.4,-25.86],[2307.9,-22.67],[2308.4,-25.61],[2308.9,-22.38],[2309.5,-25.57],[2310.1,-21.96],[2310.75,-25.43],[2311.2,-21.78],[2311.96,-25.29],[2312.45,-21.74],[2313.2,-25.15],[2313.7,-21.53],[2314.5,-25.01],[2315.1,-21.25],[2315.8,-24.87],[2316.4,-21.11],[2317.1,-24.72],[2317.7,-20.93],[2318.3,-24.58],[2318.9,-20.75],[2319.5,-24.37],[2320.2,-20.65],[2320.8,-24.30],[2321.35,-20.50],[2322.0,-24.37],[2322.6,-20.50],[2323.2,-24.44],[2323.7,-20.40],[2324.38,-24.23],[2325.19,-20.29],[2326.0,-24.23],[2326.81,-20.22],[2327.62,-24.19],[2328.55,-20.18],[2329.36,-24.16],[2330.17,-20.15],[2331.06,-24.12],[2331.95,-20.15],[2332.76,-24.12],[2333.73,-20.11],[2334.62,-24.12],[2335.6,-20.08],[2336.45,-24.16],[2337.38,-20.11],[2338.27,-24.19],[2339.16,-20.29],[2340.17,-24.26],[2340.98,-20.33],[2341.99,-24.37],[2342.8,-20.36],[2344.22,-24.58],[2345.23,-20.72],[2346.85,-25.08],[2347.46,-25.1],[2348.07,-25.05],[2349.28,-20.61],[2350.09,-24.51],[2351.71,-20.47],[2352.7,-24.44],[2353.8,-20.33],[2354.94,-24.37],[2356.15,-21.32],[2357.37,-24.37],[2358.38,-20.18],[2359.8,-23.52],[2360.8,-20.26],[2362.0,-24.44],[2363.24,-20.18],[2364.45,-24.44],[2365.67,-20.18],[2366.68,-24.44],[2368.1,-20.29],[2369.5,-24.51],[2370.3,-20.40],[2371.5,-24.23],[2372.75,-20.40],[2373.76,-23.94],[2374.8,-20.75],[2375.4,-24.65],[2376.0,-20.61],[2377.0,-24.87],[2378.2,-20.61],[2379.2,-24.09],[2379.6,-21.96],[2379.9,-24.94]];

const n2oBottom = [[2265.0,-21.0],[2265.2,-20.7],[2265.45,-21.4],[2265.7,-20.65],[2265.95,-21.35],[2266.2,-20.6],[2266.45,-21.4],[2266.7,-20.6],[2266.95,-21.3],[2267.2,-20.58],[2267.45,-21.35],[2267.7,-20.6],[2267.95,-21.3],[2268.2,-20.58],[2268.45,-21.35],[2268.7,-20.6],[2268.95,-21.3],[2269.2,-20.6],[2269.45,-21.35],[2269.7,-20.62],[2269.95,-21.4],[2270.2,-20.6],[2270.45,-21.35],[2270.7,-20.65],[2270.95,-21.45],[2271.2,-20.65],[2271.45,-21.4],[2271.7,-20.68],[2271.95,-21.5],[2272.2,-20.7],[2272.45,-21.45],[2272.7,-20.72],[2272.95,-21.55],[2273.2,-20.75],[2273.45,-21.5],[2273.7,-20.78],[2273.95,-21.6],[2274.2,-20.8],[2274.45,-21.7],[2274.7,-20.85],[2274.95,-21.8],[2275.2,-20.88],[2275.45,-21.75],[2275.7,-20.9],[2275.95,-21.9],[2276.2,-20.92],[2276.45,-21.85],[2276.7,-20.95],[2276.95,-22.0],[2277.2,-21.0],[2277.45,-21.9],[2277.7,-21.0],[2277.95,-22.1],[2278.2,-21.05],[2278.45,-22.2],[2278.7,-21.08],[2278.95,-22.3],[2279.2,-21.1],[2279.45,-22.5],[2279.7,-21.15],[2279.95,-22.3],[2280.2,-21.2],[2280.45,-22.0],[2280.7,-21.2],[2280.95,-22.1],[2281.2,-21.25],[2281.45,-21.95],[2281.7,-21.3],[2281.95,-22.2],[2282.2,-21.35],[2282.45,-22.1],[2282.7,-21.4],[2282.95,-22.3],[2283.2,-21.45],[2283.45,-22.2],[2283.7,-21.5],[2283.95,-22.45],[2284.2,-21.55],[2284.45,-22.5],[2284.7,-21.65],[2284.95,-22.4],[2285.2,-21.7],[2285.45,-22.6],[2285.7,-21.75],[2285.95,-22.5],[2286.2,-21.75],[2286.45,-22.7],[2286.7,-21.8],[2286.95,-22.6],[2287.2,-21.8],[2287.45,-22.8],[2287.7,-21.85],[2287.95,-22.65],[2288.2,-21.85],[2288.45,-22.9],[2288.7,-21.9],[2288.95,-22.7],[2289.2,-21.9],[2289.45,-22.9],[2289.7,-21.95],[2289.95,-23.15],[2290.2,-21.95],[2290.45,-23.0],[2290.7,-22.0],[2290.95,-22.9],[2291.2,-22.0],[2291.45,-23.3],[2291.7,-22.05],[2291.95,-23.0],[2292.2,-22.05],[2292.45,-23.45],[2292.7,-22.1],[2292.95,-23.65],[2293.2,-22.1],[2293.45,-23.0],[2293.6,-22.2],[2293.75,-23.45],
[2294.0,-22.3],[2294.25,-22.8],[2294.5,-22.28],[2294.75,-22.85],[2295.0,-22.3],[2295.25,-22.8],[2295.5,-22.3],[2295.75,-22.9],[2296.0,-22.32],[2296.25,-22.85],[2296.5,-22.3],[2296.75,-22.9],[2297.0,-22.35],[2297.25,-22.85],[2297.5,-22.35],[2297.75,-22.95],[2298.0,-22.4],[2298.25,-22.9],[2298.5,-22.4],[2298.75,-22.95],[2299.0,-22.4],[2299.25,-22.9],[2299.5,-22.42],[2299.75,-23.0],[2300.0,-22.45],[2300.25,-23.0],[2300.5,-22.5],[2300.75,-23.1],[2301.0,-22.5],[2301.25,-23.05],[2301.5,-22.55],[2301.75,-23.15],[2302.0,-22.6],[2302.25,-23.1],[2302.5,-22.6],[2302.75,-23.2],[2303.0,-22.65],[2303.25,-23.25],[2303.5,-22.7],[2303.75,-23.3],[2304.0,-22.75],[2304.25,-23.3],[2304.5,-22.9],[2304.7,-23.45],
[2304.85,-23.2],[2305.0,-25.0],[2305.2,-23.3],[2305.5,-25.1],[2305.75,-24.0],[2306.05,-22.52],[2306.3,-21.67],[2306.46,-21.35],[2306.78,-21.46],[2307.1,-21.95],[2307.38,-22.52],[2307.67,-23.94],[2307.91,-25.36],[2308.2,-25.79],[2308.5,-25.95],[2308.8,-26.0],[2309.1,-25.79],[2309.37,-24.65],[2309.53,-22.95],
[2309.7,-22.8],[2309.95,-23.6],[2310.2,-22.78],[2310.45,-23.5],[2310.7,-22.8],[2310.95,-23.65],[2311.2,-22.78],[2311.45,-23.55],[2311.7,-22.8],[2311.95,-23.7],[2312.2,-22.8],[2312.45,-23.6],[2312.7,-22.82],[2312.95,-23.75],[2313.2,-22.82],[2313.45,-23.6],[2313.7,-22.85],[2313.95,-23.8],[2314.2,-22.85],[2314.45,-23.65],[2314.7,-22.88],[2314.95,-23.8],[2315.2,-22.9],[2315.45,-23.7],[2315.7,-22.92],[2315.95,-23.85],[2316.2,-22.95],[2316.45,-23.75],[2316.7,-22.98],[2316.95,-23.9],[2317.2,-23.0],[2317.45,-23.8],[2317.7,-23.05],[2317.95,-23.95],[2318.2,-23.1],[2318.45,-23.85],[2318.7,-23.15],[2318.95,-23.95],[2319.2,-23.2],[2319.45,-23.9],[2319.7,-23.25],[2319.95,-24.0],[2320.15,-23.3],
[2320.45,-24.0],[2320.75,-25.0],[2320.95,-26.1],[2321.15,-26.71],[2321.76,-26.99],[2322.57,-27.21],[2323.8,-27.42],[2325.0,-27.56],[2326.6,-27.67],[2328.6,-27.81],[2330.7,-27.93],[2332.3,-27.99],[2333.2,-28.06],[2333.6,-28.27],[2334.1,-28.48],[2334.7,-28.52],[2336.3,-28.62],[2337.9,-28.73],[2339.6,-28.84],[2341.2,-28.98],[2342.8,-29.12],[2344.4,-29.33],[2345.6,-29.62],[2346.45,-29.9],[2346.85,-30.05]];

const o2Values = []; // O2 has no absorption above 1e-30 in either window

// legend areas (in data coordinates) where gnuplot leaves the grid out
const topLegendArea = {xFrom: 1940, xTo: 1964.9, yTop: -26.35};
const bottomLegendArea = {xFrom: 2351.3, xTo: 2377.4, yTop: -26.33};

// ---------- chart ----------
const chart = echarts.init(document.getElementById('c'), null, {renderer: 'canvas'});
const BLACK = '#000';
const TICK_FONT = 'DejaVu Sans';

function gridLines(xTicks, xMin, xMax, area) {
  const lines = [];
  yMajorTicks.forEach(y => {
    if (y <= -30 || y >= -19) return;
    if (y < area.yTop) {
      if (area.xFrom > xMin) lines.push([{coord: [xMin, y]}, {coord: [area.xFrom, y]}]);
      if (area.xTo < xMax) lines.push([{coord: [area.xTo, y]}, {coord: [xMax, y]}]);
    } else {
      lines.push([{coord: [xMin, y]}, {coord: [xMax, y]}]);
    }
  });
  xTicks.forEach(x => {
    if (x <= xMin || x >= xMax) return;
    const yEnd = (x > area.xFrom && x < area.xTo) ? area.yTop : -30;
    lines.push([{coord: [x, -19]}, {coord: [x, yEnd]}]);
  });
  return lines;
}

function xAxisPair(gridIndex, min, max, interval, ticks, nameGap, labelMargin) {
  const common = {
    type: 'value', gridIndex, min, max, interval,
    axisLine: {show: true, onZero: false, lineStyle: {color: BLACK, width: 1.5}},
    axisTick: {show: true, inside: true, length: 9, customValues: ticks, lineStyle: {color: BLACK, width: 1.2}},
    splitLine: {show: false}
  };
  return [
    Object.assign({}, common, {
      position: 'bottom',
      axisLabel: {show: true, customValues: ticks, margin: labelMargin, fontFamily: TICK_FONT, fontSize: 31, lineHeight: 31, color: BLACK,
        formatter: v => (ticks.indexOf(v) >= 0 ? String(v) : '')},
      name: 'wavelength [nm]', nameLocation: 'middle', nameGap,
      nameTextStyle: {fontFamily: TICK_FONT, fontSize: 32, lineHeight: 32, color: BLACK}
    }),
    Object.assign({}, common, {position: 'top', axisLabel: {show: false}})
  ];
}

function yAxisPair(gridIndex) {
  const common = {
    type: 'value', gridIndex, min: -30, max: -19, interval: 2,
    axisLine: {show: true, onZero: false, lineStyle: {color: BLACK, width: 1.5}},
    axisTick: {show: true, inside: true, length: 10, lineStyle: {color: BLACK, width: 1.2}},
    minorTick: {show: true, splitNumber: 2, length: 5, lineStyle: {color: BLACK, width: 1.2}},
    splitLine: {show: false}
  };
  return [
    Object.assign({}, common, {
      position: 'left',
      axisLabel: {show: true, margin: 23, fontFamily: TICK_FONT, fontSize: 31, color: BLACK,
        formatter: v => (Math.abs(v % 2) < 1e-9 ? '1e' + v : '')},
      name: 'absorption x-section [cm2/molec]', nameLocation: 'middle', nameRotate: 90, nameGap: 156,
      nameTextStyle: {fontFamily: 'Liberation Sans', fontSize: 31.5, lineHeight: 32, color: BLACK}
    }),
    Object.assign({}, common, {position: 'right', axisLabel: {show: false}})
  ];
}

function lineSeries(name, data, xi, yi) {
  const k = speciesNames.indexOf(name);
  const color = speciesColors[k];
  return {
    type: 'line', name, data, xAxisIndex: xi, yAxisIndex: yi,
    symbol: 'none', showSymbol: false, silent: true, animation: false, z: 3,
    color, lineStyle: {color, width: speciesLineWidths[k]}, emphasis: {disabled: true}
  };
}

function gridSeries(xi, yi, lines) {
  return {
    type: 'line', name: '_grid', data: [], xAxisIndex: xi, yAxisIndex: yi, silent: true, animation: false, z: 1,
    markLine: {silent: true, animation: false, symbol: ['none', 'none'], z: 1, label: {show: false},
      lineStyle: {color: BLACK, width: 1, type: [1.5, 3]}, emphasis: {disabled: true}, data: lines}
  };
}

function legendBlock(right, top) {
  return {
    data: speciesNames.map((n, i) => ({
      name: n,
      icon: 'path://M0,0H100V' + speciesLineWidths[i] + 'H0Z',
      textStyle: {color: speciesColors[i]}
    })),
    orient: 'vertical', align: 'right', right, top, padding: 0,
    itemWidth: 100, itemHeight: 10, itemGap: 0, selectedMode: false, symbolKeepAspect: true,
    textStyle: {fontFamily: TICK_FONT, fontSize: 32, lineHeight: 32, padding: [0, 18, 0, 0]}
  };
}

const option = {
  backgroundColor: '#ffffff',
  animation: false,
  grid: [
    {left: 201, top: 7, width: 946, height: 593},
    {left: 201, top: 736, width: 946, height: 594}
  ],
  xAxis: [
    ...xAxisPair(0, 1940, 2040, 20, topXTicks, 66, 16),
    ...xAxisPair(1, 2265, 2380, 5, bottomXTicks, 65, 17)
  ],
  yAxis: [...yAxisPair(0), ...yAxisPair(1)],
  legend: [legendBlock(786, 403), legendBlock(96, 1130)],
  series: [
    gridSeries(0, 0, gridLines(topXTicks, 1940, 2040, topLegendArea)),
    gridSeries(2, 2, gridLines(bottomXTicks, 2265, 2380, bottomLegendArea)),
    lineSeries('H2O', h2oTop, 0, 0),
    lineSeries('H2O', h2oBottom, 2, 2),
    lineSeries('CH4', ch4Bottom, 2, 2),
    lineSeries('CO2', co2Top, 0, 0),
    lineSeries('CO', coBottom, 2, 2),
    lineSeries('N2O', n2oTop, 0, 0),
    lineSeries('N2O', n2oBottom, 2, 2),
    lineSeries('O2', o2Values, 0, 0)
  ]
};
chart.setOption(option);
</script>
</body></html>
